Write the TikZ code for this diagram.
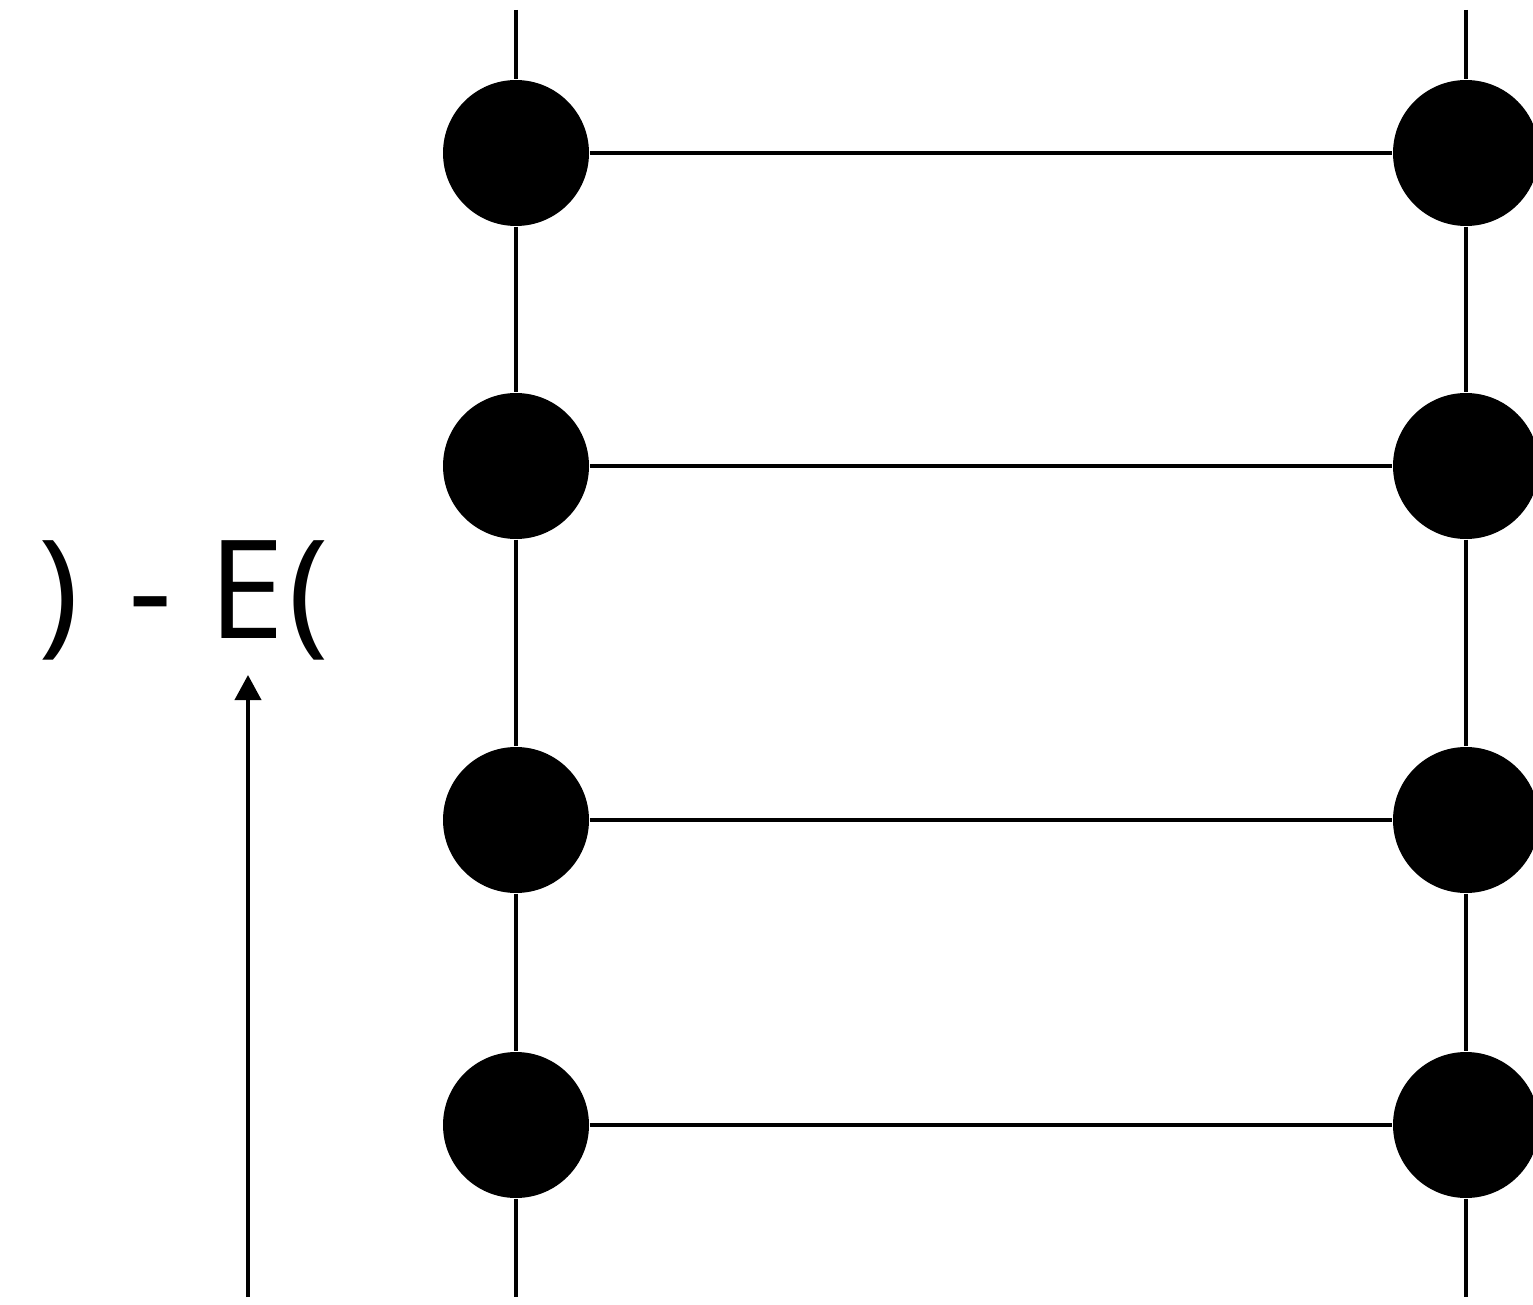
\documentclass[tikz,border=0pt]{standalone}
\usepackage{fontspec}
\setmainfont{Open Sans}
\usetikzlibrary{arrows.meta, positioning}

\begin{document}
\begin{tikzpicture}[
  site/.style={circle, fill=black, inner sep=0pt, minimum size=1.46cm},
  rung/.style={line width=1.15pt},
  arr/.style={-{Triangle[length=0.25cm, width=0.26cm]}, line width=1.1pt},
  every node/.style={font=\fontsize{39}{42}\selectfont}
]
  \useasboundingbox (0,0) rectangle (15.33,13.04);

  % left and right chains
  \node[site] (l1) at (5.16,11.51) {};
  \node[site] (l2) at (5.16,8.38) {};
  \node[site] (l3) at (5.16,4.84) {};
  \node[site] (l4) at (5.16,1.79) {};
  \node[site] (r1) at (14.66,11.51) {};
  \node[site] (r2) at (14.66,8.38) {};
  \node[site] (r3) at (14.66,4.84) {};
  \node[site] (r4) at (14.66,1.79) {};

  \coordinate (ltop) at (5.16,12.94);
  \coordinate (lbot) at (5.16,0.07);
  \coordinate (rtop) at (14.66,12.94);
  \coordinate (rbot) at (14.66,0.07);

  \draw[rung] (ltop) -- (l1) -- (l2) -- (l3) -- (l4) -- (lbot);
  \draw[rung] (rtop) -- (r1) -- (r2) -- (r3) -- (r4) -- (rbot);
  \foreach \i in {1,...,4}
    \draw[rung] (l\i) -- (r\i);

  % label and arrow
  \node (lbl) at (1.84,7.035) {)\hspace{0.14cm} - E\hspace{0.04cm}(};
  \coordinate (foot) at (2.48,0.07);
  \coordinate (tip) at (2.48,6.29);
  \draw[arr] (foot) -- (tip);
\end{tikzpicture}
\end{document}
